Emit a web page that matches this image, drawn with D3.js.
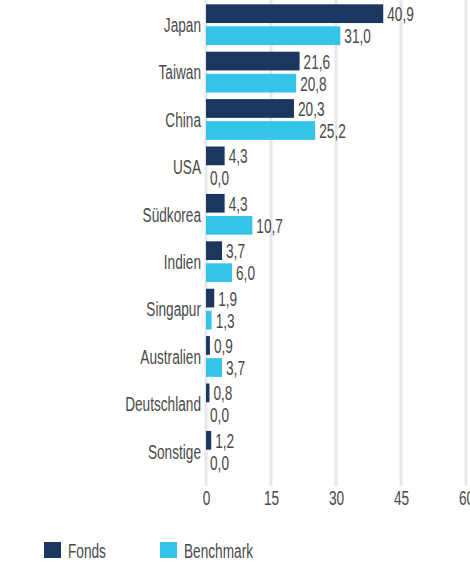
<!DOCTYPE html>
<html>
<head>
<meta charset="utf-8">
<script src="https://cdn.jsdelivr.net/npm/d3@7"></script>
<style>
  body { margin: 0; background: #fff; }
  text { font-family: "Liberation Sans", Arial, sans-serif; fill: #4a4a4a; }
</style>
</head>
<body>
<div id="chart"></div>
<script>
// Daten
const laender = ['Japan', 'Taiwan', 'China', 'USA', 'Südkorea', 'Indien', 'Singapur', 'Australien', 'Deutschland', 'Sonstige'];
const fonds = [40.9, 21.6, 20.3, 4.3, 4.3, 3.7, 1.9, 0.9, 0.8, 1.2];
const benchmark = [31.0, 20.8, 25.2, 0.0, 10.7, 6.0, 1.3, 3.7, 0.0, 0.0];
const serien = ['Fonds', 'Benchmark'];
const ticks = [0, 15, 30, 45, 60];

const [width, height] = [470, 563];
const farben = { Fonds: '#1b365f', Benchmark: '#33c4e8' };
const fontSize = '21px';
const schmal = 0.65; // schmale Schrift nachbilden
const fmt = (v) => v.toFixed(1).replace('.', ',');

const svg = d3.select('#chart').append('svg')
  .attr('width', width)
  .attr('height', height);

const x = d3.scaleLinear().domain([0, 60]).range([206, 466]);
const y = d3.scaleBand().domain(laender).range([1, 475]).paddingInner(0.14).paddingOuter(0.07);
const ySub = d3.scaleBand().domain(serien).range([0, y.bandwidth()]).paddingInner(0.15);

// Gitterlinien
svg.append('g').selectAll('line')
  .data(ticks)
  .enter().append('line')
  .attr('x1', (d) => x(d)).attr('x2', (d) => x(d))
  .attr('y1', 0).attr('y2', 486)
  .attr('stroke', '#e8e8e8')
  .attr('stroke-width', 3);

// x-Achse
const xAxis = svg.append('g')
  .attr('transform', 'translate(0,488)')
  .call(d3.axisBottom(x).tickValues(ticks).tickSize(0).tickPadding(2));
xAxis.select('.domain').remove();
xAxis.selectAll('text')
  .style('font-size', fontSize)
  .style('font-family', '"Liberation Sans", Arial, sans-serif')
  .attr('fill', '#4a4a4a')
  .attr('transform', `scale(${schmal},1)`);

// Kategorien
svg.append('g').selectAll('text')
  .data(laender)
  .enter().append('text')
  .attr('transform', (d) => `translate(201,${y(d) + y.bandwidth() / 2}) scale(${schmal},1)`)
  .attr('dy', '0.35em')
  .attr('text-anchor', 'end')
  .style('font-size', fontSize)
  .text((d) => d);

const rows = [];
laender.forEach((l, i) => {
  rows.push({ land: l, serie: 'Fonds', wert: fonds[i] });
  rows.push({ land: l, serie: 'Benchmark', wert: benchmark[i] });
});

// Balken
svg.append('g').selectAll('rect')
  .data(rows)
  .enter().append('rect')
  .attr('x', x(0))
  .attr('y', (d) => y(d.land) + ySub(d.serie))
  .attr('width', (d) => x(d.wert) - x(0))
  .attr('height', ySub.bandwidth())
  .attr('fill', (d) => farben[d.serie]);

// Werte
svg.append('g').selectAll('text')
  .data(rows)
  .enter().append('text')
  .attr('transform', (d) => `translate(${x(d.wert) + 4},${y(d.land) + ySub(d.serie) + ySub.bandwidth() / 2}) scale(${schmal},1)`)
  .attr('dy', '0.36em')
  .style('font-size', fontSize)
  .text((d) => fmt(d.wert));

// Legende
const legende = svg.append('g').selectAll('g')
  .data(serien)
  .enter().append('g')
  .attr('transform', (d, i) => `translate(${44 + i * 116},542)`);
legende.append('rect')
  .attr('width', 17).attr('height', 16)
  .attr('fill', (d) => farben[d]);
legende.append('text')
  .attr('transform', `translate(24,8) scale(${schmal},1)`)
  .attr('dy', '0.36em')
  .style('font-size', fontSize)
  .text((d) => d);
</script>
</body>
</html>
